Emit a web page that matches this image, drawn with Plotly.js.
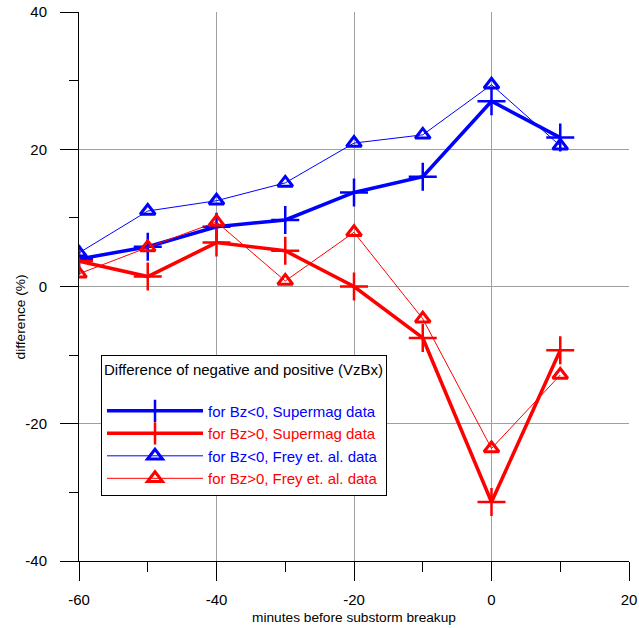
<!DOCTYPE html>
<html>
<head>
<meta charset="utf-8">
<script src="https://cdn.plot.ly/plotly-3.0.1.min.js"></script>
<style>html,body{margin:0;padding:0;background:#fff;}#chart{width:639px;height:628px;}</style>
</head>
<body>
<div id="chart"></div>
<script>
const minutes = [-60, -50, -40, -30, -20, -10, 0, 10];
const bzNegSupermag = [4.0, 5.8, 8.7, 9.7, 13.7, 16.0, 27.0, 21.7];
const bzPosSupermag = [3.7, 1.45, 6.4, 5.2, 0.0, -7.5, -31.4, -9.3];
const bzNegFrey = [4.9, 11.0, 12.5, 15.1, 20.9, 22.1, 29.4, 20.5];
const bzPosFrey = [1.85, 5.7, 9.4, 0.8, 7.9, -4.7, -23.6, -12.9];
const seriesNames = [
  'for Bz<0, Supermag data',
  'for Bz>0, Supermag data',
  'for Bz<0, Frey et. al. data',
  'for Bz>0, Frey et. al. data'
];
const xTickVals = [-60, -40, -20, 0, 20];
const xTickText = ['-60', '-40', '-20', '0', '20'];
const yTickVals = [-40, -20, 0, 20, 40];
const yTickText = ['-40', '-20', '0', '20', '40'];
const legendTitle = 'Difference of negative and positive (VzBx)';
const xTitle = 'minutes before substorm breakup';
const yTitle = 'difference (%)';

const BLUE = '#0000ff', RED = '#ff0000';
function colored(name, c){ return '<span style="color:' + c + '">' + name + '</span>'; }

const plusMarker = c => ({symbol:'cross-thin', size:20, color:c, line:{color:c, width:2.5}});
const triMarker = c => ({symbol:'triangle-up-open', size:13, color:c, line:{color:c, width:3}});

const traces = [
  {x:minutes, y:bzNegSupermag, mode:'lines+markers', name:colored(seriesNames[0], BLUE),
   line:{color:BLUE, width:3.5}, marker:plusMarker(BLUE)},
  {x:minutes, y:bzPosSupermag, mode:'lines+markers', name:colored(seriesNames[1], RED),
   line:{color:RED, width:3.5}, marker:plusMarker(RED)},
  {x:minutes, y:bzNegFrey, mode:'lines+markers', name:colored(seriesNames[2], BLUE),
   line:{color:BLUE, width:1}, marker:triMarker(BLUE)},
  {x:minutes, y:bzPosFrey, mode:'lines+markers', name:colored(seriesNames[3], RED),
   line:{color:RED, width:1}, marker:triMarker(RED)}
];

const font = {family:'Liberation Sans, Arial, sans-serif', color:'#000'};
const f = s => Object.assign({size:s}, font);

const layout = {
  width:639, height:628,
  margin:{l:79, r:10, t:12, b:67},
  paper_bgcolor:'#fff', plot_bgcolor:'#fff',
  font:f(13),
  showlegend:true,
  legend:{
    x:0.04, y:0.376, xanchor:'left', yanchor:'top',
    bgcolor:'#fff', bordercolor:'#000', borderwidth:1,
    font:f(15),
    title:{text:legendTitle + '<br> ', font:f(15)},
    itemwidth:96, tracegroupgap:0
  },
  xaxis:{
    range:[-60, 20], tickmode:'array', tickvals:xTickVals, ticktext:xTickText,
    ticks:'outside', ticklen:19, tickwidth:1, tickcolor:'#000',
    minor:{tickmode:'linear', tick0:-60, dtick:10, ticks:'outside', ticklen:10, tickcolor:'#000', showgrid:false},
    showline:true, linecolor:'#000', linewidth:1, mirror:false,
    showgrid:true, gridcolor:'#a0a0a0', gridwidth:1, zeroline:false,
    tickfont:f(15), ticklabelstandoff:6,
    title:{text:xTitle, font:f(13.7), standoff:5}
  },
  yaxis:{
    range:[-40, 40], tickmode:'array', tickvals:yTickVals, ticktext:yTickText,
    ticks:'outside', ticklen:18, tickwidth:1, tickcolor:'#000',
    minor:{tickmode:'linear', tick0:-40, dtick:10, ticks:'outside', ticklen:9, tickcolor:'#000', showgrid:false},
    showline:true, linecolor:'#000', linewidth:1, mirror:false,
    showgrid:true, gridcolor:'#a0a0a0', gridwidth:1,
    zeroline:true, zerolinecolor:'#a0a0a0', zerolinewidth:1,
    tickfont:f(15), ticklabelstandoff:10
  },
  annotations:[{
    text:yTitle, textangle:-90, xref:'paper', yref:'paper',
    x:-0.107, y:0.444, xanchor:'center', yanchor:'middle', showarrow:false, font:f(13.7)
  }]
};

Plotly.newPlot('chart', traces, layout, {displayModeBar:false, staticPlot:true});
</script>
</body>
</html>
